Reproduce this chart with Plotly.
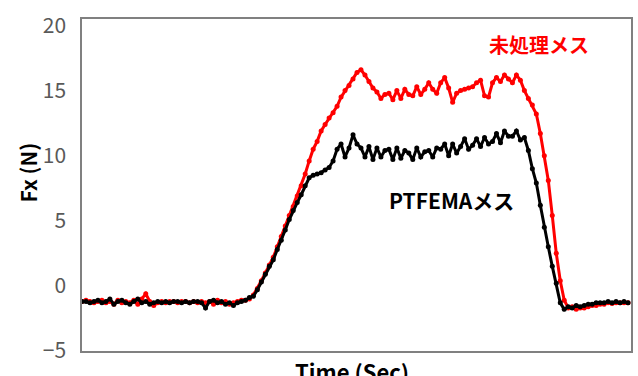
import plotly.graph_objects as go

# sample index (uniform sampling in time; the x axis carries no tick labels)
time_idx = list(range(138))

untreated = [
    -1.2, -1.1, -1.2, -1.3, -1.2, -1.1, -1.3, -1.2, -1.4, -1.1,
    -1.3, -1.2, -1.3, -1.1, -1.4, -1.0, -0.6, -1.2, -1.5, -1.3,
    -1.2, -1.3, -1.2, -1.2, -1.3, -1.2, -1.2, -1.3, -1.2, -1.3,
    -1.2, -1.3, -1.2, -1.4, -1.1, -1.3, -1.2, -1.4, -1.3, -1.2,
    -1.1, -1.1, -1.0,
    -0.7, -0.2, 0.4, 1.0, 1.6, 2.2, 3.0, 3.8, 4.6, 5.4,
    6.1, 6.9, 7.7, 8.6, 9.6, 10.5, 11.1, 11.9, 12.4, 12.9,
    13.3, 13.8, 14.5, 15.0, 15.4, 15.9, 16.4, 16.6,
    16.2, 15.7, 15.2, 14.9, 14.4, 14.7, 14.8, 14.3, 15.0, 14.4,
    15.1, 14.7, 14.6, 15.3, 14.7, 15.1, 15.6, 15.1, 14.8, 15.6,
    16.0, 15.2, 14.1, 14.8, 15.0, 15.1, 15.2, 15.3, 15.6, 15.8,
    14.6, 14.5, 15.6, 16.0, 15.7, 16.2, 15.9, 15.6, 16.2, 15.8,
    15.0, 14.4,
    13.9, 13.2, 11.7, 10.0, 8.1, 5.4, 2.5, 0.4, -1.1, -1.7,
    -1.6, -1.8, -1.7, -1.7, -1.6, -1.5, -1.5, -1.4, -1.4, -1.3,
    -1.35, -1.3, -1.3, -1.3, -1.3,
]

ptfema = [
    -1.2, -1.2, -1.3, -1.2, -1.1, -1.3, -1.2, -1.0, -1.4, -1.2,
    -1.1, -1.3, -1.4, -1.2, -1.0, -1.3, -1.2, -1.4, -1.3, -1.2,
    -1.3, -1.2, -1.3, -1.2, -1.2, -1.3, -1.2, -1.3, -1.2, -1.2,
    -1.3, -1.7, -1.2, -1.1, -1.3, -1.2, -1.4, -1.3, -1.5, -1.3,
    -1.2, -1.1,
    -0.9, -0.8, -0.3, 0.3, 0.9, 1.5, 2.0, 2.8, 3.5, 4.3,
    5.1, 5.8, 6.4, 7.0, 7.7, 8.3, 8.5, 8.6, 8.7, 8.9,
    9.1, 9.6, 10.5, 10.9, 9.9, 10.6, 11.6, 10.9, 10.6,
    9.9, 10.7, 9.7, 10.6, 9.9, 10.4, 10.5, 9.7, 10.6, 9.8,
    10.4, 10.2, 9.7, 10.6, 9.9, 10.3, 10.4, 9.9, 10.6, 10.5,
    10.9, 10.0, 10.9, 10.2, 10.7, 11.3, 10.5, 10.8, 11.3, 10.7,
    11.4, 10.9, 11.1, 11.7, 11.0, 11.9, 11.5, 11.5, 11.9, 11.2,
    11.4,
    10.4, 9.0, 7.9, 6.2, 4.5, 3.0, 1.5, 0.2, -1.3, -1.8,
    -1.6, -1.7, -1.5, -1.6, -1.5, -1.4, -1.4, -1.3, -1.3, -1.3,
    -1.2, -1.3, -1.2, -1.3, -1.2, -1.3,
]

y_ticks = [-5, 0, 5, 10, 15, 20]
label_untreated = "未処理メス"
label_ptfema = "PTFEMAメス"

FONT = "Noto Sans CJK JP, Noto Sans, sans-serif"

fig = go.Figure()
fig.add_trace(go.Scatter(
    x=time_idx, y=untreated, mode="lines+markers", name=label_untreated,
    line=dict(color="#ff0000", width=3), marker=dict(color="#ff0000", size=5),
))
fig.add_trace(go.Scatter(
    x=time_idx, y=ptfema, mode="lines+markers", name=label_ptfema,
    line=dict(color="#000000", width=3), marker=dict(color="#000000", size=5),
))

fig.update_layout(
    width=638, height=376,
    margin=dict(l=82, r=5, t=19, b=25),
    paper_bgcolor="white", plot_bgcolor="white",
    showlegend=False,
    font=dict(family=FONT),
    xaxis=dict(range=[0, 137.75], showticklabels=False, ticks="", showgrid=False,
               zeroline=False, showline=True, mirror=True,
               linecolor="#808080", linewidth=1.5),
    yaxis=dict(range=[-5, 20.5], tickvals=y_ticks, ticks="", showgrid=False,
               zeroline=False, showline=True, mirror=True,
               linecolor="#808080", linewidth=1.5,
               tickfont=dict(size=21, color="#595959", family=FONT),
               ticklabelstandoff=10),
    annotations=[
        dict(text="<b>" + label_untreated + "</b>", xref="paper", yref="paper",
             x=0.833, y=0.922, showarrow=False, xanchor="center", yanchor="middle",
             font=dict(size=20, color="#ff0000", family=FONT)),
        dict(text="<b>" + label_ptfema + "</b>", xref="paper", yref="paper",
             x=0.673, y=0.455, showarrow=False, xanchor="center", yanchor="middle",
             font=dict(size=21, color="#000000", family=FONT)),
        dict(text="<b>Fx (N)</b>", xref="paper", yref="paper",
             x=-0.098, y=0.538, showarrow=False, xanchor="center", yanchor="middle",
             textangle=-90, font=dict(size=21, color="#000000", family=FONT)),
        dict(text="<b>Time (Sec)</b>", xref="paper", yref="paper",
             x=0.491, y=-0.006, showarrow=False, xanchor="center", yanchor="top",
             font=dict(size=22, color="#000000", family=FONT)),
    ],
)

fig.write_html("out.html", config={"displayModeBar": False},
               post_script="document.body.style.margin='0';")
